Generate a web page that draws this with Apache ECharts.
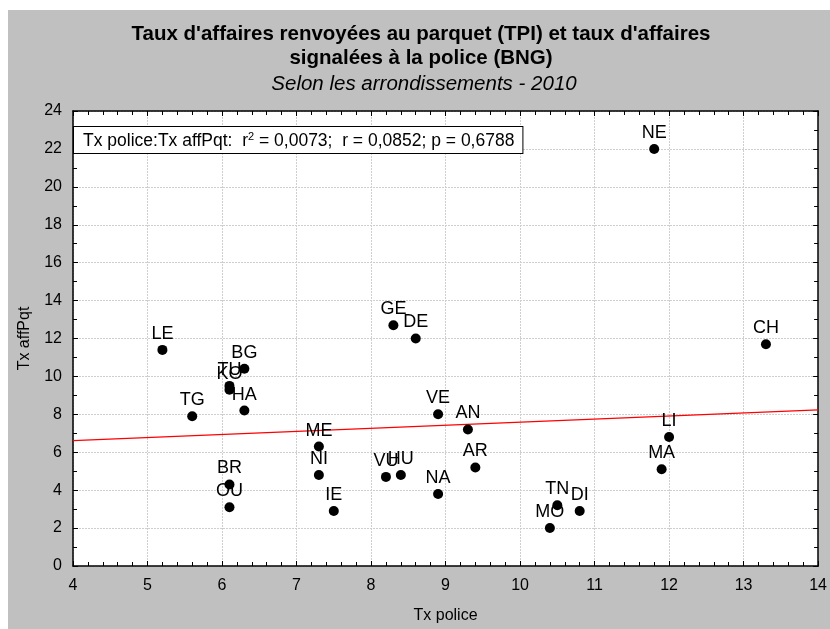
<!DOCTYPE html>
<html>
<head>
<meta charset="utf-8">
<script src="https://cdn.jsdelivr.net/npm/echarts@6/dist/echarts.min.js"></script>
<style>
  html, body { margin: 0; padding: 0; background: #fff; }
  #chart { width: 830px; height: 629px; }
</style>
</head>
<body>
<div id="chart"></div>
<script>
// arrondissements (étiquettes des points)
const names = ['LE', 'TG', 'BG', 'TU', 'KO', 'HA', 'BR', 'OU', 'ME', 'NI', 'IE', 'GE', 'DE', 'VU', 'HU',
    'VE', 'NA', 'AN', 'AR', 'MO', 'TN', 'DI', 'NE', 'MA', 'LI', 'CH'];
// Tx police
const xValues = [5.2, 5.6, 6.3, 6.1, 6.1, 6.3, 6.1, 6.1, 7.3, 7.3, 7.5, 8.3, 8.6, 8.2, 8.4,
    8.9, 8.9, 9.3, 9.4, 10.4, 10.5, 10.8, 11.8, 11.9, 12.0, 13.3];
// Tx affPqt
const yValues = [11.4, 7.9, 10.4, 9.5, 9.3, 8.2, 4.3, 3.1, 6.3, 4.8, 2.9, 12.7, 12.0, 4.7, 4.8,
    8.0, 3.8, 7.2, 5.2, 2.0, 3.2, 2.9, 22.0, 5.1, 6.8, 11.7];
// droite de régression
const regLine = [[4, 6.61], [14, 8.23]];

const font = 'Liberation Sans, Arial, sans-serif';
const points = names.map((n, i) => ({ name: n, value: [xValues[i], yValues[i]] }));

let chart = echarts.init(document.getElementById('chart'));

const axisCommon = {
    type: 'value',
    axisLine: { show: true, onZero: false, lineStyle: { color: '#000', width: 1.5 } },
    axisTick: { show: true, inside: true, length: 5, lineStyle: { color: '#000' } },
    minorTick: { show: true, length: 4, lineStyle: { color: '#000' } },
    axisLabel: { color: '#000', fontSize: 16, fontFamily: font },
    nameTextStyle: { color: '#000', fontSize: 16, fontFamily: font }
};

let option = {
    animation: false,
    backgroundColor: '#fff',
    graphic: [
        {
            type: 'rect', z: -10, silent: true,
            shape: { x: 8, y: 10, width: 822, height: 619 },
            style: { fill: '#c0c0c0' }
        },
        {
            type: 'text', x: 421, y: 22, z: 10,
            style: {
                text: "Taux d'affaires renvoyées au parquet (TPI) et taux d'affaires\nsignalées à la police (BNG)",
                textAlign: 'center', textVerticalAlign: 'top',
                font: 'bold 20.5px ' + font, lineHeight: 24, fill: '#000'
            }
        },
        {
            type: 'text', x: 424, y: 74, z: 10,
            style: {
                text: 'Selon les arrondissements - 2010',
                textAlign: 'center', textVerticalAlign: 'top',
                font: 'italic 20.5px ' + font, fill: '#000'
            }
        },
        {
            type: 'text', left: 73, top: 126, z: 10,
            style: {
                text: '{t|Tx police:Tx affPqt:  r}{s|2}{t| = 0,0073;  r = 0,0852; p = 0,6788}',
                rich: {
                    t: { fontSize: 17.5, fontFamily: font, color: '#000', verticalAlign: 'bottom', lineHeight: 19 },
                    s: { fontSize: 11, fontFamily: font, color: '#000', verticalAlign: 'top', lineHeight: 19 }
                },
                backgroundColor: '#fff',
                borderColor: '#000',
                borderWidth: 1,
                padding: [4, 8, 3, 9]
            }
        }
    ],
    grid: { left: 73, right: 11, top: 111, bottom: 60, show: true, backgroundColor: '#fff', borderWidth: 0 },
    xAxis: [
        Object.assign({}, axisCommon, {
            min: 4, max: 14, interval: 1, position: 'bottom',
            minorTick: Object.assign({}, axisCommon.minorTick, { splitNumber: 5 }),
            axisLabel: Object.assign({}, axisCommon.axisLabel, { margin: 12 }),
            splitLine: { show: true, lineStyle: { color: '#cfcfcf', type: [2, 1] } },
            name: 'Tx police', nameLocation: 'middle', nameGap: 42
        }),
        Object.assign({}, axisCommon, {
            min: 4, max: 14, interval: 1, position: 'top',
            minorTick: Object.assign({}, axisCommon.minorTick, { splitNumber: 5 }),
            axisLabel: { show: false }, splitLine: { show: false }
        })
    ],
    yAxis: [
        Object.assign({}, axisCommon, {
            min: 0, max: 24, interval: 2, position: 'left',
            minorTick: Object.assign({}, axisCommon.minorTick, { splitNumber: 2 }),
            axisLabel: Object.assign({}, axisCommon.axisLabel, { margin: 11 }),
            splitLine: { show: true, lineStyle: { color: '#cfcfcf', type: [2, 1] } },
            name: 'Tx affPqt', nameLocation: 'middle', nameGap: 40, nameRotate: 90
        }),
        Object.assign({}, axisCommon, {
            min: 0, max: 24, interval: 2, position: 'right',
            minorTick: Object.assign({}, axisCommon.minorTick, { splitNumber: 2 }),
            axisLabel: { show: false }, splitLine: { show: false }
        })
    ],
    series: [
        {
            type: 'line',
            data: regLine,
            showSymbol: false,
            symbol: 'none',
            lineStyle: { color: '#ff0000', width: 1.2 },
            z: 3
        },
        {
            type: 'scatter',
            data: points,
            symbolSize: 10,
            itemStyle: { color: '#000', opacity: 1 },
            label: {
                show: true,
                position: 'top',
                distance: 2,
                formatter: '{b}',
                color: '#000',
                fontSize: 18,
                fontFamily: font
            },
            labelLayout: { hideOverlap: false },
            z: 4
        }
    ]
};
chart.setOption(option);
</script>
</body>
</html>
